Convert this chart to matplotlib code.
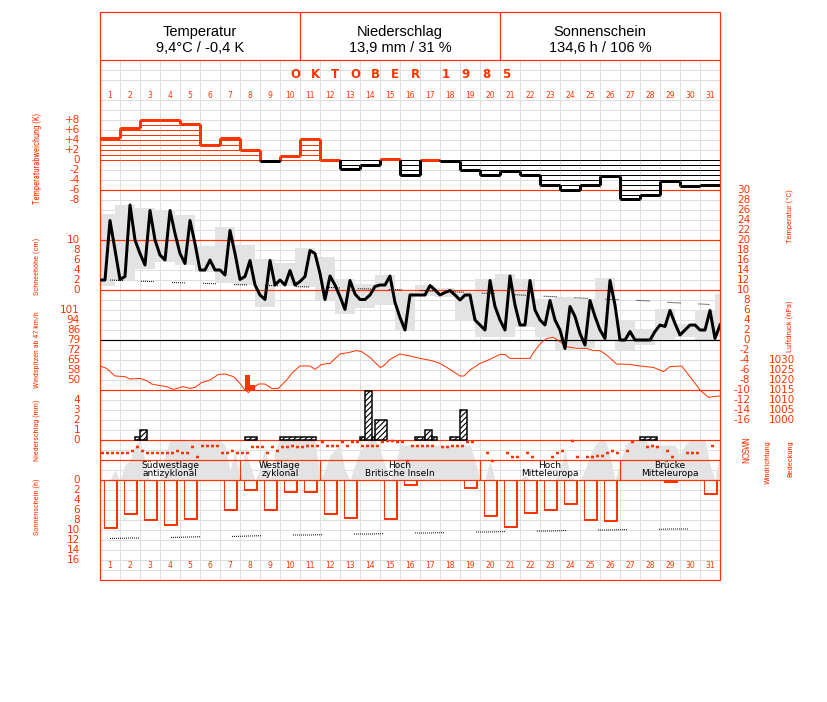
import matplotlib
matplotlib.use("Agg")
import matplotlib.pyplot as plt
from matplotlib import font_manager
import numpy as np

plt.rcParams['lines.scale_dashes'] = False
plt.rcParams['hatch.linewidth'] = 0.8
plt.rcParams['font.family'] = ['DejaVu Sans']

W, H = 827, 702
PX = 0.72
RED = '#ff3300'
GRID = '#dedede'
FILL = '#e3e3e3'

_installed = {f.name for f in font_manager.fontManager.ttflist}
NARROW = None
for cand in ['Liberation Sans Narrow', 'Roboto Condensed', 'Open Sans Condensed', 'DejaVu Sans Condensed']:
    if cand in _installed:
        NARROW = cand
        break
if NARROW:
    NARROW_FAM = [NARROW, 'DejaVu Sans']
elif 'Roboto' in _installed:
    NARROW_FAM = ['Roboto', 'DejaVu Sans']
else:
    NARROW_FAM = ['Liberation Sans', 'DejaVu Sans']

# ---------------- data ----------------
days = list(range(1, 32))
title_text = "OKTOBER 1985"
header_titles = ["Temperatur", "Niederschlag", "Sonnenschein"]
header_values = ["9,4°C / -0,4 K", "13,9 mm / 31 %", "134,6 h / 106 %"]

temp_dev = [4.5, 6.5, 8.0, 8.0, 7.2, 3.1, 4.5, 2.1, -0.1, 0.9, 4.2, 0.1, -1.8, -0.9, 0.3, -3.0,
            0.1, -0.2, -2.0, -3.0, -2.2, -3.0, -4.9, -5.9, -4.9, -3.2, -7.7, -7.0, -4.1, -5.2, -4.9]

# 6-hourly temperature, t = 0, 0.25, ... 31 (days since 1 Oct 00h)
temp_6h = [12.0, 12.0, 23.9, 18.0, 12.1, 12.7, 27.0, 20.0, 17.3, 15.0, 25.9, 20.0, 17.0, 16.0, 25.9, 21.3,
           17.3, 15.3, 23.9, 19.3, 14.0, 14.0, 16.0, 14.0, 14.0, 13.0, 21.9, 17.3, 12.1, 12.7, 15.9, 11.0,
           9.0, 8.1, 15.9, 11.0, 12.0, 11.0, 13.9, 11.0, 11.7, 12.7, 17.9, 17.3, 13.3, 8.1, 12.8, 11.0,
           8.7, 6.1, 11.9, 9.2, 8.1, 8.1, 9.0, 10.7, 11.0, 11.0, 12.8, 7.5, 4.5, 2.0, 9.0, 9.0,
           9.0, 9.0, 10.9, 10.0, 9.0, 9.5, 9.9, 9.0, 8.0, 9.0, 9.0, 4.0, 3.0, 2.0, 11.9, 6.7,
           4.0, 2.0, 12.8, 7.0, 3.0, 3.0, 11.9, 6.0, 4.0, 3.0, 7.9, 4.0, 2.0, -1.7, 6.7, 4.7,
           1.3, -1.0, 7.9, 4.7, 2.0, 0.3, 11.9, 7.0, 0.0, 0.0, 1.7, 0.0, 0.0, 0.0, 0.0, 1.7,
           3.0, 2.7, 5.9, 3.3, 1.0, 2.0, 3.0, 3.0, 2.0, 2.0, 5.9, 0.3, 3.0]

# daily extremes (boxes cover 18h previous day .. 18h)
box_max = [25.2, 27.0, 26.5, 26.0, 25.0, 18.8, 22.7, 19.1, 16.3, 15.5, 18.5, 16.7, 12.3, 11.2, 13.0, 9.7,
           11.0, 10.5, 9.7, 12.3, 13.3, 12.3, 8.3, 8.7, 8.3, 12.5, 4.0, 2.3, 6.2, 3.3, 6.0, 9.2]
box_min = [10.9, 12.1, 14.3, 15.7, 15.0, 13.7, 11.5, 11.0, 6.7, 10.9, 10.7, 8.0, 5.3, 6.5, 7.0, 2.0,
           8.8, 8.7, 4.0, 0.7, 0.7, 2.7, 0.7, -2.0, -1.5, 0.0, -2.0, -1.0, 0.3, 0.7, 0.0, 0.7]

temp_normal = [12.0, 11.8, 11.7, 11.5, 11.4, 11.3, 11.1, 11.0, 10.9, 10.7, 10.6, 10.5, 10.3, 10.2, 10.1, 10.0,
               9.8, 9.7, 9.5, 9.3, 9.1, 8.9, 8.7, 8.5, 8.3, 8.1, 8.0, 7.8, 7.5, 7.3, 7.1]

sun_hours = [9.5, 6.7, 7.9, 8.9, 7.7, 0.0, 5.9, 1.9, 6.0, 2.4, 2.4, 6.7, 7.5, 0.0, 7.7, 1.0,
             0.0, 0.0, 1.5, 7.1, 9.3, 6.5, 5.9, 4.7, 7.9, 8.1, 0.0, 0.0, 0.3, 0.0, 2.7]
sun_possible = [11.7, 11.6, 11.6, 11.5, 11.4, 11.3, 11.3, 11.2, 11.1, 11.0, 11.0, 10.9, 10.8, 10.8, 10.7, 10.6,
                10.6, 10.5, 10.4, 10.4, 10.3, 10.2, 10.2, 10.1, 10.0, 10.0, 9.9, 9.9, 9.8, 9.8, 9.7]

pressure_t = [0.0, 0.33, 0.75, 1.25, 1.5, 2.0, 2.33, 2.58, 3.0, 3.33, 3.67, 4.17, 4.5, 4.75, 5.08, 5.5,
              5.92, 6.25, 6.67, 7.0, 7.25, 7.42, 7.58, 7.92, 8.25, 8.58, 8.92, 9.33, 9.67, 10.0, 10.5, 10.75,
              11.08, 11.5, 12.0, 12.42, 12.83, 13.08, 13.5, 14.0, 14.17, 14.5, 15.0, 15.5, 16.0, 16.58, 17.0, 17.5,
              18.0, 18.2, 18.5, 19.0, 19.42, 20.0, 20.25, 20.5, 21.5, 21.67, 22.0, 22.33, 22.67, 23.0, 23.33, 23.83,
              24.33, 24.67, 25.0, 25.33, 25.83, 26.5, 27.0, 27.67, 28.17, 28.5, 29.08, 29.5, 30.0, 30.42, 30.67, 31.0]
pressure_hpa = [1027.0, 1025.8, 1022.0, 1021.7, 1020.5, 1020.8, 1019.7, 1018.0, 1017.2, 1016.7, 1015.3, 1016.7,
                1015.8, 1016.3, 1018.7, 1020.0, 1022.8, 1023.0, 1021.7, 1018.3, 1015.0, 1013.7, 1015.3, 1018.0,
                1018.0, 1015.8, 1015.8, 1020.0, 1024.2, 1027.0, 1027.0, 1025.3, 1027.8, 1028.3, 1033.0, 1033.7,
                1034.7, 1034.2, 1031.3, 1026.3, 1027.0, 1030.3, 1033.0, 1032.0, 1030.8, 1029.7, 1028.3, 1025.3,
                1022.0, 1022.0, 1025.0, 1028.3, 1030.0, 1032.8, 1032.8, 1030.8, 1030.8, 1033.7, 1038.0, 1040.8,
                1041.3, 1039.2, 1036.7, 1035.8, 1035.8, 1034.7, 1034.7, 1032.5, 1028.0, 1027.8, 1027.0, 1026.3,
                1024.2, 1026.7, 1027.0, 1021.7, 1015.0, 1011.3, 1011.7, 1012.0]

gust_t = [7.25, 7.5]
gust_kmh = [54.0, 47.0]

precip_start = [1.75, 2.0, 7.25, 9.0, 13.0, 13.25, 13.58, 13.75, 15.75, 16.25, 16.58, 17.5, 18.0, 27.0]
precip_len = [0.25, 0.33, 0.58, 1.8, 0.25, 0.33, 0.17, 0.58, 0.5, 0.33, 0.25, 0.5, 0.33, 0.83]
precip_mm = [0.25, 1.0, 0.25, 0.25, 0.25, 4.9, 0.25, 2.0, 0.25, 1.0, 0.25, 0.25, 3.0, 0.25]

# cloud cover (octas), 6-hourly, t = 0 .. 31
cloud_6h = [0, 0, 0, 2, 0, 3, 4, 7, 8, 4, 0, 0, 0, 5, 8, 8,
            8, 8, 8, 8, 8, 8, 8, 8, 8, 7, 2, 6, 0, 6, 3, 0,
            2, 7, 0, 6, 8, 8, 8, 8, 8, 8, 8, 8, 0, 2, 5, 6,
            7, 2, 0, 3, 6, 7, 8, 8, 6, 3, 0, 3, 7, 7, 7, 7,
            7, 7, 7, 7, 7, 7, 7, 7, 7, 7, 7, 4, 0, 0, 4, 0,
            0, 0, 0, 0, 0, 1, 0, 0, 0, 0, 0, 0, 2, 6, 1, 0,
            0, 2, 5, 7, 8, 8, 5, 0, 3, 7, 8, 8, 8, 8, 7, 7,
            7, 7, 7, 7, 5, 7, 8, 8, 8, 8, 3, 0, 6]

# wind direction (degrees), 6-hourly slots; nan = calm
nan = np.nan
wind_dir_6h = [135, 135, 135, 135, 135, 135, 180, 248, 180, 135, 135, 135, 135, 135, 135, 180,
               135, 135, 248, 68, 270, 270, 270, 270, 135, 135, 180, 135, 135, 135, 248, 248,
               248, 135, 248, 180, 248, 248, 270, 248, 248, 270, 270, 270, 338, 270, 270, 270,
               338, 270, 338, 338, 270, 270, 270, 270, 338, 360, 360, 338, 338, 0, 270, 270,
               270, 270, 270, nan, 248, 248, 270, 270, 270, 338, 338, nan, nan, 135, 0, nan,
               nan, 135, 68, 68, nan, 135, 68, nan, nan, nan, 68, 135, 180, nan, 360, 68,
               nan, 68, 68, 90, 90, 135, 180, 135, nan, 180, 338, nan, nan, 248, 270, 248,
               nan, 180, 68, nan, nan, 135, 135, 135, nan, nan, 270, nan, 135]

regime_names = [("Südwestlage", "antizyklonal"), ("Westlage", "zyklonal"), ("Hoch", "Britische Inseln"),
                ("Hoch", "Mitteleuropa"), ("Brücke", "Mitteleuropa")]
regime_first_day = [1, 8, 12, 20, 27]
regime_last_day = [7, 11, 19, 26, 31]

# ---------------- figure ----------------
fig = plt.figure(figsize=(W / 100, H / 100), dpi=100)
fig.patch.set_facecolor('white')


def px_axes(z):
    ax = fig.add_axes([0, 0, 1, 1], zorder=z)
    ax.set_xlim(0, W)
    ax.set_ylim(H, 0)
    ax.axis('off')
    ax.patch.set_alpha(0)
    return ax


def data_axes(v0, y0, ppu, z):
    ax = fig.add_axes([100 / W, (H - 580) / H, 620 / W, 520 / H], zorder=z)
    ax.set_xlim(0, 31)
    ax.set_ylim(v0 - (580 - y0) / ppu, v0 + (y0 - 60) / ppu)
    ax.axis('off')
    ax.patch.set_alpha(0)
    return ax


def lw(px):
    return px * PX


def dotted(n_dots, gap_px):
    return [PX, PX] * (n_dots - 1) + [PX, gap_px * PX]


# base: grid
base = px_axes(0)
ygrid = [y for y in range(70, 580, 10) if y != 90]
base.hlines(ygrid, 100, 720, color=GRID, lw=lw(1))
base.vlines([100 + 20 * d for d in range(1, 31)], 60, 580, color=GRID, lw=lw(1))

# header
for i, (t1, t2) in enumerate(zip(header_titles, header_values)):
    cx = 200 + 200 * i
    base.text(cx, 32, t1, ha='center', va='center', fontsize=10.5, family=['Liberation Sans', 'DejaVu Sans'])
    base.text(cx, 48, t2, ha='center', va='center', fontsize=10.5, family=['Liberation Sans', 'DejaVu Sans'])

# title letters, one per day column
xpos = 295
for c in title_text:
    if c == ' ':
        xpos += 11
        continue
    base.text(xpos, 75, c, ha='center', va='center', fontsize=8.5, color=RED, fontweight='bold')
    xpos += 20

# left / right rotated labels (fitted close to the length they have in the original)
lab = dict(color=RED, rotation=90, ha='center', va='center', fontsize=9, family=NARROW_FAM)
side_labels = [
    (37, 158, "Temperaturabweichung (K)", 93),
    (37, 266, "Schneehöhe (cm)", 58),
    (37, 350, "Windspitzen ab 47 km/h", 77),
    (37, 430, "Niederschlag (mm)", 62),
    (37, 507, "Sonnenschein (h)", 57),
    (790, 216, "Temperatur (°C)", 54),
    (790, 326, "Luftdruck (hPa)", 52),
    (768, 462, "Windrichtung", 44),
    (790, 459, "Bedeckung", 37),
]
side_texts = [(base.text(x, y, s, **lab), L) for x, y, s, L in side_labels]

tick = dict(color=RED, fontsize=7.5, va='center')

# ---- fills (z=1)
ax_c = data_axes(0, 480, 5, 1)
t6 = np.arange(len(cloud_6h)) * 0.25
ax_c.fill_between(t6, 0, cloud_6h, color=FILL, lw=0)

ax_tb = data_axes(0, 340, 5, 1)
box_left = np.arange(len(box_max)) - 0.25
ax_tb.bar(box_left, np.array(box_max) - np.array(box_min), bottom=box_min, width=1.0,
          align='edge', color=FILL, lw=0)

# ---- separators (z=2)
sep = px_axes(2)
sep.add_patch(plt.Rectangle((100, 12), 620, 568, fill=False, edgecolor=RED, lw=lw(1.2)))
sep.hlines([60, 190, 240, 290, 390, 440, 460, 480], 100, 720, color=RED, lw=lw(1.2))
sep.vlines([300, 500], 12, 60, color=RED, lw=lw(1.2))

ax_py = data_axes(0, 0, -1, 2)  # x in days, y in pixel rows
ax_py.hlines(340, 0, 31, color='black', lw=lw(1.2))
ax_py.vlines([d - 1 for d in regime_first_day[1:]], 460, 480, color=RED, lw=lw(1.2))
for (n1, n2), a, b in zip(regime_names, regime_first_day, regime_last_day):
    cx = (a - 1 + b) / 2
    ax_py.text(cx, 466, n1, ha='center', va='center', fontsize=6.5)
    ax_py.text(cx, 473.5, n2, ha='center', va='center', fontsize=6.5)
for d in days:
    ax_py.text(d - 0.5, 95, str(d), ha='center', va='center', fontsize=5.5, color=RED)
    ax_py.text(d - 0.5, 566, str(d), ha='center', va='center', fontsize=5.5, color=RED)

# ---- data (z=3)
ax_dev = data_axes(0, 160, 5, 3)
for i, d in enumerate(temp_dev):
    col = RED if d > 0 else 'black'
    n = int(np.floor(abs(d)))
    s = 1 if d >= 0 else -1
    ax_dev.hlines([s * k for k in range(n + 1)], i, i + 1, color=col, lw=lw(1))
    ax_dev.hlines(d, i, i + 1, color=col, lw=lw(3))
for i in range(1, len(temp_dev)):
    a, b = temp_dev[i - 1], temp_dev[i]
    lo, hi = min(a, b), max(a, b)
    if hi > 0:
        ax_dev.vlines(i, max(lo, 0), hi, color=RED, lw=lw(3))
    if lo < 0:
        ax_dev.vlines(i, lo, min(hi, 0), color='black', lw=lw(3))
for v in range(8, -9, -2):
    lbl = ("+%d" % v) if v > 0 else str(v)
    ax_dev.text(-1.0, v, lbl, ha='right', **tick)

# snow axis labels only
ax_sn = data_axes(0, 290, 5, 3)
for v in range(10, -1, -2):
    ax_sn.text(-1.0, v, str(v), ha='right', **tick)

# temperature normal (dotted)
ax_t = data_axes(0, 340, 5, 3)
ax_t.plot(np.array(days) - 0.5, temp_normal, color='black', lw=lw(1), dashes=dotted(7, 18))
for v in range(30, -17, -2):
    ax_t.text(32.5, v, str(v), ha='right', **tick)

# pressure
ax_pr = data_axes(1000, 420, 2, 3)
ax_pr.plot(pressure_t, pressure_hpa, color=RED, lw=lw(1))
for v in range(1030, 999, -5):
    ax_pr.text(34.75, v, str(v), ha='right', **tick)

# gusts (m/s scale)
ax_g = data_axes(0, 450, 5, 3)
g_ms = np.array(gust_kmh) / 3.6
ax_g.bar(gust_t, g_ms - 12, bottom=12, width=0.25, align='edge', color=RED, lw=0)
for ms in range(28, 13, -2):
    ax_g.text(-1.0, ms, str(int(round(ms * 3.6))), ha='right', **tick)

# precipitation
ax_p = data_axes(0, 440, 10, 3)
ax_p.bar(precip_start, precip_mm, width=precip_len, align='edge', facecolor='white',
         edgecolor='black', hatch='//////', lw=lw(1.5))
for v in range(4, -1, -1):
    ax_p.text(-1.0, v, str(v), ha='right', **tick)

# sunshine (downward)
ax_s = data_axes(0, 480, -5, 3)
sl = np.arange(31) + 0.2
sw = 0.633
for x0, s in zip(sl, sun_hours):
    if s > 0:
        ax_s.bar(x0, s, width=sw, align='edge', fill=False, edgecolor=RED, lw=lw(1))
        ax_s.vlines(x0 + sw, 0, s, color=RED, lw=lw(2))
        ax_s.hlines(s, x0, x0 + sw, color=RED, lw=lw(2))
ax_s.plot(np.array(days) - 0.5, sun_possible, color='black', lw=lw(1), dashes=dotted(15, 32))
for v in range(0, 17, 2):
    ax_s.text(-1.0, v, str(v), ha='right', **tick)

# wind direction
ax_w = data_axes(0, 460.5, 20 / 360, 3)
wd = np.array(wind_dir_6h, dtype=float)
ks = np.arange(len(wd)) * 0.25
m = ~np.isnan(wd)
ax_w.hlines(wd[m], ks[m] + 0.03, ks[m] + 0.22, color=RED, lw=lw(2.5))
for v, c in zip([360, 270, 180, 90, 0], ["N", "W", "S", "O", "N"]):
    ax_w.text(32.35, v, c, ha='center', va='center', rotation=90, color=RED, fontsize=5.5)

# ---- temperature line on top
ax_tl = data_axes(0, 340, 5, 4)
ax_tl.plot(np.arange(len(temp_6h)) * 0.25, temp_6h, color='black', lw=lw(3))

# fit the rotated side labels close to their original lengths
# (no condensed face is installed, so allow them to run a little longer)
fig.canvas.draw()
rend = fig.canvas.get_renderer()
stretch = 1.0 if NARROW else 1.15
for t, L in side_texts:
    h = t.get_window_extent(rend).height
    if h > 0:
        t.set_fontsize(t.get_fontsize() * L * stretch / h)

fig.savefig("out.png", dpi=100, facecolor='white')
